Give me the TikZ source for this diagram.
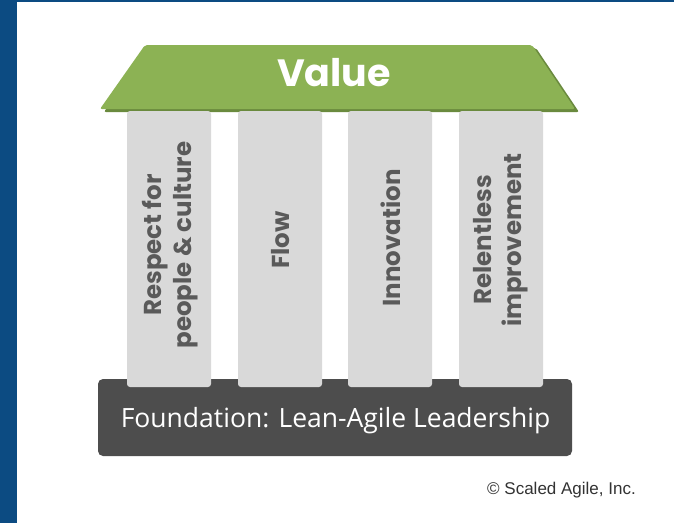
\documentclass[tikz,border=0pt]{standalone}
\usepackage{fontspec}
\newfontfamily\pillarfont{Poppins}
\newfontfamily\basefont{Open Sans}
\newfontfamily\notefont{Liberation Sans}
\definecolor{frameblue}{HTML}{0C4B82}
\definecolor{roofgreen}{HTML}{8CB254}
\definecolor{roofshade}{HTML}{6A8A3E}
\definecolor{pillargray}{HTML}{D9D9D9}
\definecolor{pillartext}{HTML}{5A5A5A}
\definecolor{basegray}{HTML}{4D4D4D}
\definecolor{notegray}{HTML}{333333}
\tikzset{
  pillar/.style={fill=pillargray, rounded corners=3pt, minimum width=84pt,
    minimum height=276pt, inner sep=0pt, draw=none},
  pillarlabel/.style={rotate=90, align=center, text=pillartext,
    font=\pillarfont\bfseries\fontsize{24.5}{30}\selectfont, inner sep=0pt},
  roofshape/.style={rounded corners=2pt},
}
\begin{document}
\begin{tikzpicture}[x=1pt, y=-1pt]
  \useasboundingbox (0,0) rectangle (674,523);
  \fill[white] (0,0) rectangle (674,523);
  % frame edges
  \fill[frameblue] (0,0) rectangle (17,523);
  \fill[frameblue] (0,0) rectangle (674,2);

  % roof shadow
  \fill[roofshade, roofshape] (149,48) -- (536,48) -- (579,112) -- (104,112) -- cycle;

  % foundation
  \node[fill=basegray, rounded corners=5pt, minimum width=474pt, minimum height=77pt,
        inner sep=0pt] (base) at (335,417.5) {};
  \node[text=white, font=\basefont\fontsize{26.5}{30}\selectfont, anchor=base]
        (baselabel) at (335.5,427) {Foundation: Lean-Agile Leadership};

  % pillars
  \node[pillar] (p1) at (169,249) {};
  \node[pillar] (p2) at (280,249) {};
  \node[pillar] (p3) at (390,249) {};
  \node[pillar] (p4) at (501,249) {};
  \node[pillarlabel] (t1) at (170,245) {Respect for\\people \& culture};
  \node[pillarlabel] (t2) at (281,240) {Flow};
  \node[pillarlabel] (t3) at (391,238) {Innovation};
  \node[pillarlabel] (t4) at (501,240) {Relentless\\improvement};

  % roof
  \fill[roofgreen, roofshape] (145,45) -- (532,45) -- (575,109) -- (100,109) -- cycle;
  \node[text=white, font=\pillarfont\bfseries\fontsize{38}{40}\selectfont, anchor=base]
        (value) at (334,86) {Value};

  % copyright line
  \node[text=notegray, font=\notefont\fontsize{17}{20}\selectfont, anchor=base]
        (note) at (561.5,494) {\textcopyright{} Scaled Agile, Inc.};
\end{tikzpicture}
\end{document}
